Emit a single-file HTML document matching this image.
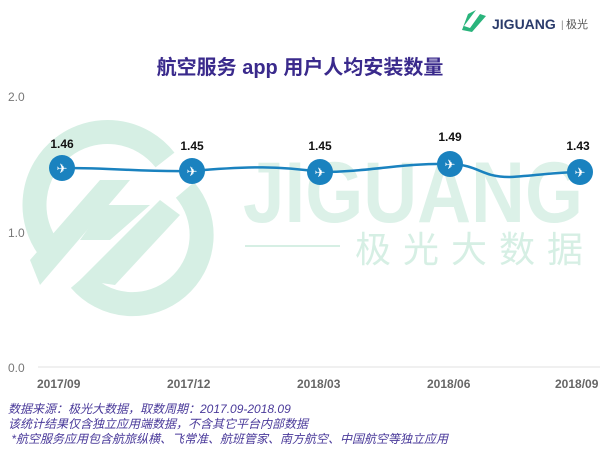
<!DOCTYPE html>
<html><head><meta charset="utf-8"><style>
body{margin:0;width:600px;height:463px;background:#fff;overflow:hidden;position:relative;font-family:"Liberation Sans","Noto Sans CJK SC",sans-serif}
.a{position:absolute;white-space:nowrap}
</style></head><body>
<svg class="a" style="left:0;top:0" width="600" height="463">
 <g fill="none" stroke="#d6efe4" stroke-width="24">
  <path d="M50 250 A68 68 0 0 1 165 160"/>
  <path d="M185 190 A68 68 0 0 1 80 280"/>
 </g>
 <g fill="#d6efe4">
  <path d="M100 180 L130 180 L40 285 L30 260 Z"/>
  <path d="M160 200 L180 215 L115 285 L80 280 Z"/>
  <path d="M105 205 L150 205 L110 240 L80 240 Z"/>
 </g>
 <text x="243" y="222" font-family="Liberation Sans" font-weight="bold" font-size="86" fill="#dcf1e8" textLength="340" lengthAdjust="spacingAndGlyphs">JIGUANG</text>
 <rect x="245" y="245" width="95" height="2" fill="#d6efe4"/>
 <text x="355" y="262" font-family="Noto Sans CJK SC" font-size="36" fill="#d6efe4" letter-spacing="12">极光大数据</text>
 <line x1="38" y1="367" x2="600" y2="367" stroke="#e2e2e2" stroke-width="1"/>
 <text x="8" y="101" font-size="12" fill="#777">2.0</text>
 <text x="8" y="237" font-size="12" fill="#777">1.0</text>
 <text x="8" y="372" font-size="12" fill="#777">0.0</text>
 <g font-size="12" font-weight="bold" fill="#666">
  <text x="37" y="388">2017/09</text><text x="167" y="388">2017/12</text>
  <text x="297" y="388">2018/03</text><text x="427" y="388">2018/06</text>
  <text x="555" y="388">2018/09</text>
 </g>
 <path d="M62 168 C120 168,140 172,192 171 C250 166,280 166,320 172 C370 172,400 163,450 164 C480 165,480 177,510 177 C540 175,560 172,580 172" fill="none" stroke="#1a82bf" stroke-width="2.5"/>
 <g fill="#1a82bf">
  <circle cx="62" cy="168" r="13"/><circle cx="192" cy="171" r="13"/>
  <circle cx="320" cy="172" r="13"/><circle cx="450" cy="164" r="13"/>
  <circle cx="580" cy="172" r="13"/>
 </g>
 <g fill="#fff" font-size="13" text-anchor="middle">
  <text x="62" y="173">✈</text><text x="192" y="176">✈</text><text x="320" y="177">✈</text><text x="450" y="169">✈</text><text x="580" y="177">✈</text>
 </g>
 <g font-size="12" font-weight="bold" fill="#111" text-anchor="middle">
  <text x="62" y="148">1.46</text><text x="192" y="150">1.45</text><text x="320" y="150">1.45</text><text x="450" y="141">1.49</text><text x="578" y="150">1.43</text>
 </g>
 <path d="M468 14 L476 10 L464 26 L470 28 L480 14 L486 16 L472 32 L462 30 Z" fill="#2ab47c"/>
 <text x="492" y="29" font-size="14" font-weight="bold" fill="#2a3b6b">JIGUANG</text>
 <text x="561" y="28" font-size="10" fill="#888">|</text>
 <text x="566" y="28" font-size="11" fill="#555" font-family="Noto Sans CJK SC">极光</text>
</svg>
<div class="a" style="left:0;width:600px;top:51px;text-align:center;font-size:20px;font-weight:bold;color:#3a2a8c">航空服务 app 用户人均安装数量</div>
<div class="a" style="left:8px;top:402px;font-size:12px;line-height:15px;font-style:italic;color:#4a3a9a">数据来源：极光大数据，取数周期：2017.09-2018.09<br>该统计结果仅含独立应用端数据，不含其它平台内部数据<br>&nbsp;*航空服务应用包含航旅纵横、飞常准、航班管家、南方航空、中国航空等独立应用</div>
</body></html>
